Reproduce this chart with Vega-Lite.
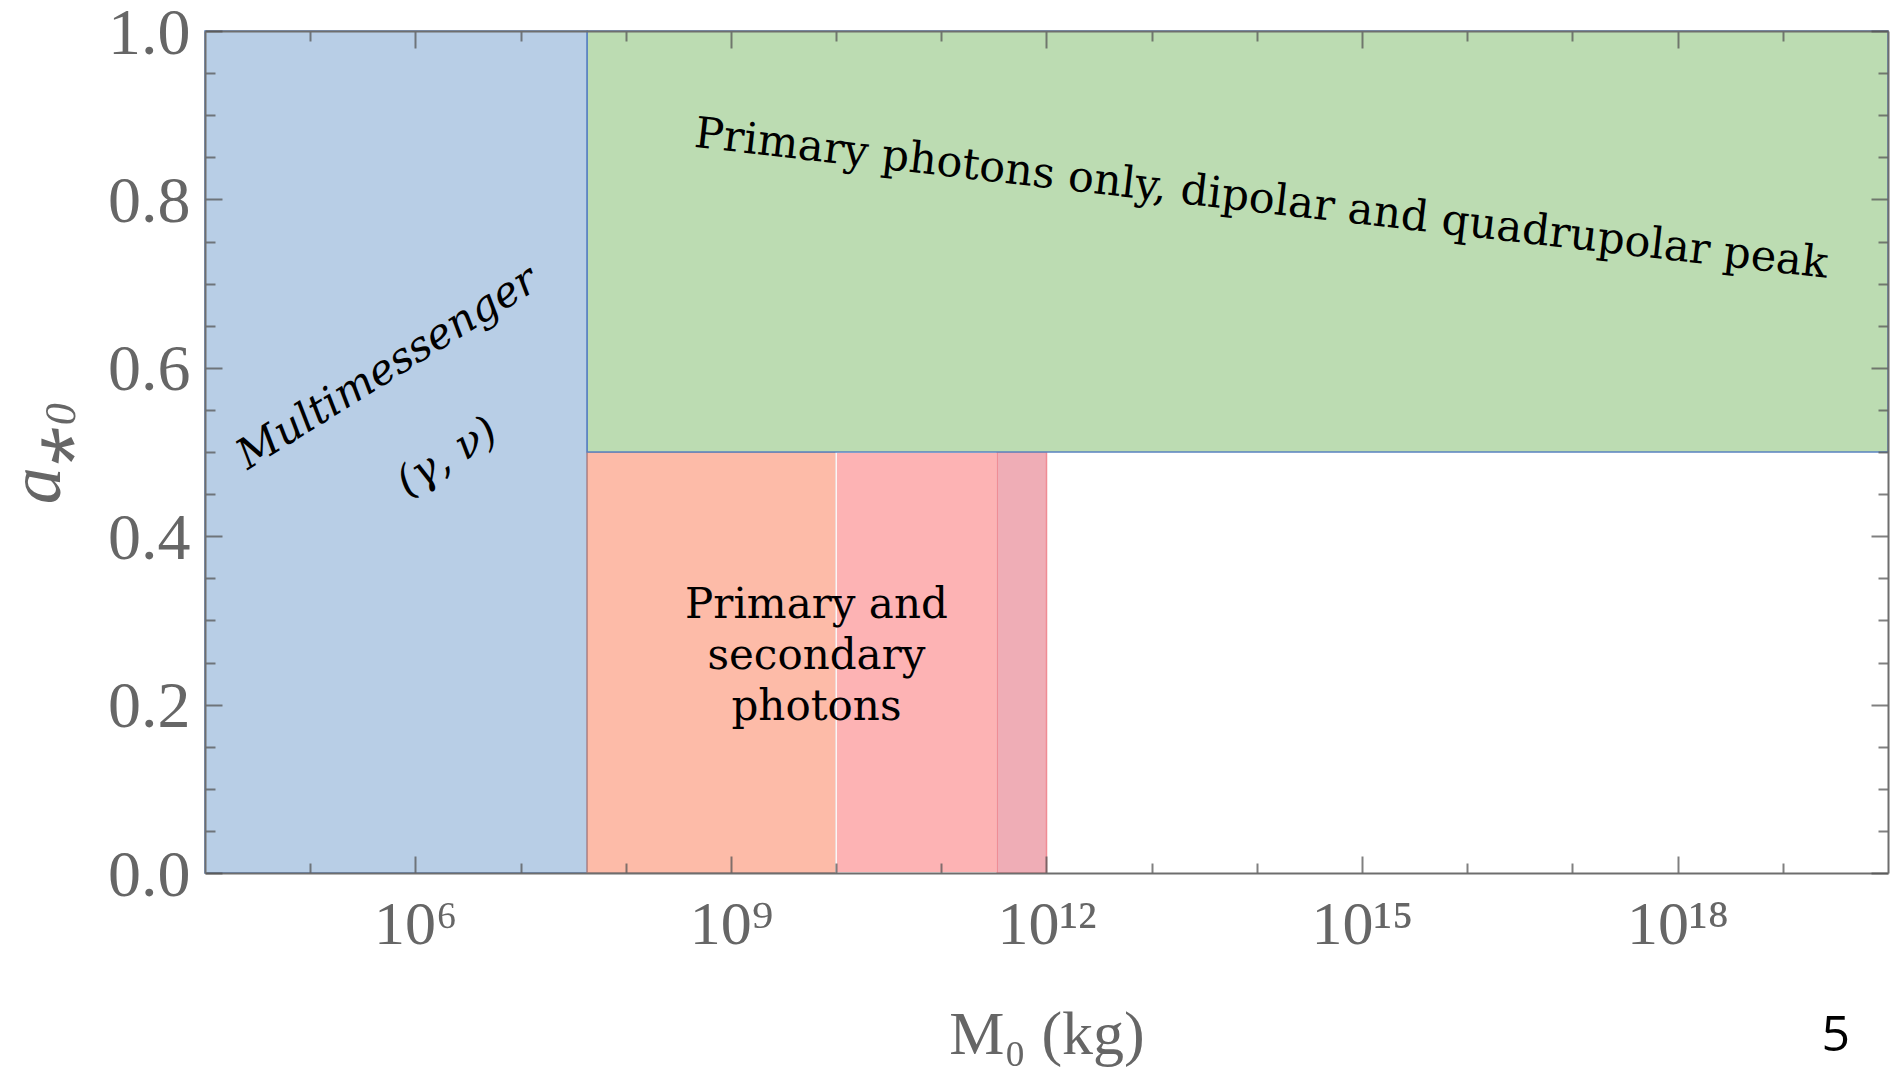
{
  "$schema": "https://vega.github.io/schema/vega-lite/v6.json",
  "width": 1683,
  "height": 842,
  "autosize": {"type": "none"},
  "padding": {"left": 205, "top": 31, "right": 2, "bottom": 196},
  "background": "white",
  "config": {"view": {"stroke": null}, "font": "Liberation Serif"},
  "title": {
    "text": "5",
    "orient": "bottom",
    "anchor": "end",
    "frame": "group",
    "font": "Open Sans",
    "fontSize": 50,
    "fontWeight": "normal",
    "color": "#000000",
    "offset": -54,
    "dx": -38
  },
  "layer": [
    {
      "data": {
        "values": [
          {"region": "Multimessenger", "m_lo": 1e4, "m_hi": 4.3e7, "a_lo": 0, "a_hi": 1},
          {"region": "Primary and secondary", "m_lo": 4.3e7, "m_hi": 1e10, "a_lo": 0, "a_hi": 0.5},
          {"region": "Secondary tail", "m_lo": 1e10, "m_hi": 3.4e11, "a_lo": 0, "a_hi": 0.5},
          {"region": "Secondary edge", "m_lo": 3.4e11, "m_hi": 1e12, "a_lo": 0, "a_hi": 0.5},
          {"region": "Primary only", "m_lo": 4.3e7, "m_hi": 1e20, "a_lo": 0.5, "a_hi": 1}
        ]
      },
      "mark": {"type": "rect", "strokeWidth": 1.5},
      "encoding": {
        "x": {
          "field": "m_lo",
          "type": "quantitative",
          "scale": {"type": "log", "domain": [1e4, 1e20], "nice": false},
          "axis": {
            "orient": "bottom",
            "values": [1e5, 1e6, 1e7, 1e8, 1e9, 1e10, 1e11, 1e12, 1e13, 1e14, 1e15, 1e16, 1e17, 1e18, 1e19],
            "labelExpr": "datum.value == 1e6 ? '10⁶' : datum.value == 1e9 ? '10⁹' : datum.value == 1e12 ? '10¹²' : datum.value == 1e15 ? '10¹⁵' : datum.value == 1e18 ? '10¹⁸' : ''",
            "tickSize": {"condition": {"test": "indexof([1e6, 1e9, 1e12, 1e15, 1e18], datum.value) >= 0", "value": -17}, "value": -10},
            "tickColor": "#555555",
            "tickOpacity": 0.75,
            "tickWidth": 2,
            "domainColor": "#6e6e6e",
            "domainWidth": 2,
            "grid": false,
            "zindex": 1,
            "labelFont": "Liberation Serif",
            "labelFontSize": 62,
            "labelColor": "#666666",
            "labelPadding": 38,
            "labelFlush": false,
            "labelOverlap": false,
            "labelBaseline": "top",
            "title": "M₀ (kg)",
            "titleFont": "Liberation Serif",
            "titleFontSize": 62,
            "titleFontWeight": "normal",
            "titleColor": "#666666",
            "titlePadding": 42
          }
        },
        "x2": {"field": "m_hi"},
        "y": {
          "field": "a_lo",
          "type": "quantitative",
          "scale": {"domain": [0, 1], "nice": false},
          "axis": {
            "orient": "left",
            "values": [0, 0.05, 0.1, 0.15, 0.2, 0.25, 0.3, 0.35, 0.4, 0.45, 0.5, 0.55, 0.6, 0.65, 0.7, 0.75, 0.8, 0.85, 0.9, 0.95, 1],
            "labelExpr": "abs(datum.value * 5 - round(datum.value * 5)) < 1e-6 ? format(datum.value, '.1f') : ''",
            "tickSize": {"condition": {"test": "abs(datum.value * 5 - round(datum.value * 5)) < 1e-6", "value": -17}, "value": -10},
            "tickColor": "#555555",
            "tickOpacity": 0.75,
            "tickWidth": 2,
            "domainColor": "#6e6e6e",
            "domainWidth": 2,
            "grid": false,
            "zindex": 1,
            "labelFont": "Liberation Serif",
            "labelFontSize": 66,
            "labelColor": "#666666",
            "labelPadding": 32,
            "labelBaseline": "alphabetic",
            "labelOffset": 22,
            "labelFlush": false,
            "labelOverlap": false,
            "title": "a⁎₀",
            "titleFont": "Liberation Serif",
            "titleFontSize": 74,
            "titleFontStyle": "italic",
            "titleFontWeight": "normal",
            "titleColor": "#666666",
            "titlePadding": 32
          }
        },
        "y2": {"field": "a_hi"},
        "fill": {
          "field": "region",
          "type": "nominal",
          "scale": {
            "domain": ["Multimessenger", "Primary and secondary", "Secondary tail", "Secondary edge", "Primary only"],
            "range": ["#b8cee6", "#fdbba8", "#fdb3b4", "#efadb6", "#bcdcb2"]
          },
          "legend": null
        },
        "stroke": {
          "field": "region",
          "type": "nominal",
          "scale": {
            "domain": ["Multimessenger", "Primary and secondary", "Secondary tail", "Secondary edge", "Primary only"],
            "range": ["#5a82c0", "#c08a82", "#ffffff", "#f08c94", "#5a82c0"]
          },
          "legend": null
        }
      }
    },
    {
      "data": {"values": [{}]},
      "mark": {"type": "point", "opacity": 0},
      "encoding": {
        "x": {
          "datum": 1e10,
          "type": "quantitative",
          "axis": {
            "orient": "top",
            "values": [1e5, 1e6, 1e7, 1e8, 1e9, 1e10, 1e11, 1e12, 1e13, 1e14, 1e15, 1e16, 1e17, 1e18, 1e19],
            "labels": false,
            "title": null,
            "tickSize": {"condition": {"test": "indexof([1e6, 1e9, 1e12, 1e15, 1e18], datum.value) >= 0", "value": -17}, "value": -10},
            "tickColor": "#555555",
            "tickOpacity": 0.75,
            "tickWidth": 2,
            "domainColor": "#6e6e6e",
            "domainWidth": 2,
            "grid": false,
            "zindex": 1
          }
        },
        "y": {
          "datum": 0.5,
          "type": "quantitative",
          "axis": {
            "orient": "right",
            "values": [0, 0.05, 0.1, 0.15, 0.2, 0.25, 0.3, 0.35, 0.4, 0.45, 0.5, 0.55, 0.6, 0.65, 0.7, 0.75, 0.8, 0.85, 0.9, 0.95, 1],
            "labels": false,
            "title": null,
            "tickSize": {"condition": {"test": "abs(datum.value * 5 - round(datum.value * 5)) < 1e-6", "value": -17}, "value": -10},
            "tickColor": "#555555",
            "tickOpacity": 0.75,
            "tickWidth": 2,
            "domainColor": "#6e6e6e",
            "domainWidth": 2,
            "grid": false,
            "zindex": 1
          }
        }
      }
    },
    {
      "data": {"values": [{}]},
      "mark": {"type": "text", "font": "DejaVu Serif", "fontStyle": "italic", "fontSize": 42, "angle": 328, "align": "center", "baseline": "middle", "color": "#000000"},
      "encoding": {
        "x": {"datum": 5.4e5, "type": "quantitative", "axis": null},
        "y": {"datum": 0.6, "type": "quantitative", "axis": null},
        "text": {"value": "Multimessenger"}
      }
    },
    {
      "data": {"values": [{}]},
      "mark": {"type": "text", "font": "DejaVu Serif", "fontStyle": "italic", "fontSize": 42, "angle": 328, "align": "center", "baseline": "middle", "color": "#000000"},
      "encoding": {
        "x": {"datum": 2.0e6, "type": "quantitative", "axis": null},
        "y": {"datum": 0.494, "type": "quantitative", "axis": null},
        "text": {"value": "(γ, ν)"}
      }
    },
    {
      "data": {"values": [{}]},
      "mark": {"type": "text", "font": "DejaVu Serif", "fontSize": 43, "angle": 6.6, "align": "center", "baseline": "middle", "color": "#000000"},
      "encoding": {
        "x": {"datum": 1.1e14, "type": "quantitative", "axis": null},
        "y": {"datum": 0.8, "type": "quantitative", "axis": null},
        "text": {"value": "Primary photons only, dipolar and quadrupolar peak"}
      }
    },
    {
      "data": {"values": [{}]},
      "mark": {"type": "text", "font": "DejaVu Serif", "fontSize": 42, "lineHeight": 51, "align": "center", "baseline": "middle", "color": "#000000"},
      "encoding": {
        "x": {"datum": 6.5e9, "type": "quantitative", "axis": null},
        "y": {"datum": 0.318, "type": "quantitative", "axis": null},
        "text": {"value": ["Primary and", "secondary", "photons"]}
      }
    }
  ],
  "resolve": {"axis": {"x": "independent", "y": "independent"}}
}
